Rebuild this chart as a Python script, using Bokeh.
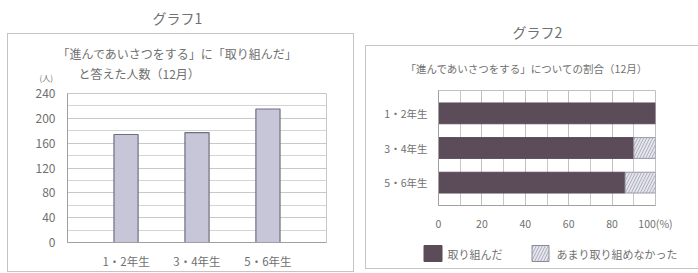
from bokeh.plotting import figure
from bokeh.models import FactorRange, FixedTicker, Range1d, ColumnDataSource, Spacer
from bokeh.layouts import row, column
from bokeh.embed import file_html
from bokeh.resources import INLINE
from bokeh.core.properties import value

FONT = "Noto Sans CJK JP"
TXT = "#707070"
DARK = "#5c4b59"
LIGHT1 = "#c6c6d8"
LIGHT2 = "#e4e4ec"
BORDER = {"border": "1px solid #c4c4c4"}

# ---- data ----
grades = ["1・2年生", "3・4年生", "5・6年生"]
counts = [174, 177, 215]                 # グラフ1: 人数
done_pct = [100, 90, 86]                 # グラフ2: 取り組んだ (%)
notdone_pct = [0, 10, 14]                # グラフ2: あまり取り組めなかった (%)
y1_ticks = [0, 40, 80, 120, 160, 200, 240]
x2_ticks = [0, 20, 40, 60, 80, 100]
series_names = ["取り組んだ", "あまり取り組めなかった"]
series_colors = [DARK, LIGHT2]


def textfig(w, h, items):
    """A plain pixel-space figure that only carries texts: (text, left, middle_y, size)."""
    f = figure(width=w, height=h, x_range=Range1d(0, w), y_range=Range1d(h, 0),
               x_axis_location=None, y_axis_location=None,
               toolbar_location=None, output_backend="svg", min_border=0)
    f.grid.visible = False
    f.outline_line_color = None
    for t, x, y, s in items:
        f.text(x=[x], y=[y], text=[t], text_align="left", text_baseline="middle",
               text_font=value(FONT), text_font_size=s, text_color=TXT)
    return f


def style_axes(p, size):
    for ax in (p.xaxis, p.yaxis):
        ax.major_tick_line_color = None
        ax.minor_tick_line_color = None
        ax.axis_line_color = "#a0a0a0"
        ax.major_label_text_font = FONT
        ax.major_label_text_color = TXT
        ax.major_label_text_font_size = size


# ---- グラフ1 ----
t1 = textfig(345, 33, [("グラフ1", 145, 17, "14px")])
h1 = textfig(345, 51, [("「進んであいさつをする」に「取り組んだ」", 49, 19, "12px"),
                       ("と答えた人数（12月）", 70, 39, "12px"),
                       ("(人)", 31, 43, "8px")])

p1 = figure(width=345, height=186,
            x_range=FactorRange(*grades, range_padding=0.325, range_padding_units="absolute"),
            y_range=Range1d(0, 240),
            toolbar_location=None, output_backend="svg",
            min_border_left=59, min_border_right=27, min_border_top=8, min_border_bottom=23)
src1 = ColumnDataSource(dict(grade=grades, count=counts))
p1.vbar(x="grade", top="count", width=0.34, source=src1,
        fill_color=LIGHT1, line_color="#6e6e80", line_width=1.2)

p1.yaxis.ticker = FixedTicker(ticks=y1_ticks,
                              minor_ticks=[(a + b) / 2 for a, b in zip(y1_ticks[:-1], y1_ticks[1:])])
p1.ygrid.grid_line_color = "#c8c8c8"
p1.ygrid.minor_grid_line_color = "#d4d4d4"
p1.xgrid.grid_line_color = None
p1.outline_line_color = "#c8c8c8"
style_axes(p1, "12px")
p1.xaxis.major_label_text_font_size = "11.5px"
p1.yaxis.major_label_standoff = 6
p1.xaxis.major_label_standoff = 4

# wrap the text strip in its own column so Bokeh does not align its frame with p1's
box1 = column(column(h1), p1, spacing=0, styles=BORDER)

# ---- グラフ2 ----
t2 = textfig(335, 45, [("グラフ2", 147, 31, "14px")])
h2 = textfig(335, 36, [("「進んであいさつをする」についての割合（12月）", 39, 22, "10.5px")])

p2 = figure(width=335, height=151,
            y_range=FactorRange(*grades[::-1], range_padding=0.16, range_padding_units="absolute"),
            x_range=Range1d(0, 100),
            toolbar_location=None, output_backend="svg",
            min_border_left=72, min_border_right=46, min_border_top=8, min_border_bottom=20)
src2 = ColumnDataSource(dict(grade=grades, done=done_pct, notdone=notdone_pct))
rs = p2.hbar_stack(["done", "notdone"], y="grade", height=0.6, source=src2,
                   fill_color=series_colors, line_color=[DARK, "#9a9aa6"])
rs[1].glyph.hatch_pattern = "/"
rs[1].glyph.hatch_color = "#b0b0bc"
rs[1].glyph.hatch_scale = 6

p2.xaxis.ticker = FixedTicker(ticks=x2_ticks,
                              minor_ticks=[(a + b) / 2 for a, b in zip(x2_ticks[:-1], x2_ticks[1:])])
p2.xaxis.major_label_overrides = {100: "100(%)"}
p2.xgrid.grid_line_color = "#c0c0c0"
p2.xgrid.minor_grid_line_color = "#c8c8c8"
p2.ygrid.grid_line_color = None
p2.outline_line_color = "#c0c0c0"
style_axes(p2, "10.5px")
p2.yaxis.major_label_standoff = 5
p2.xaxis.major_label_standoff = 4

# legend strip: two swatches + labels
lg = textfig(335, 35, [(series_names[0], 81, 20, "11px"),
                       (series_names[1], 190, 20, "11px")])
lg.rect(x=[66.5, 174], y=[20, 20], width=[18, 17], height=[16, 16],
        fill_color=series_colors, line_color=[DARK, "#8a8a96"],
        hatch_pattern=[" ", "/"], hatch_color="#b0b0bc", hatch_scale=6)

box2 = column(column(h2), p2, column(lg), spacing=0, styles=BORDER)

col2 = column(t2, box2, spacing=0)
col2.margin = (0, 0, 0, 11)
layout = row(Spacer(width=7), column(t1, box1, spacing=0), col2, spacing=0)

open("out.html", "w").write(file_html(layout, INLINE))
